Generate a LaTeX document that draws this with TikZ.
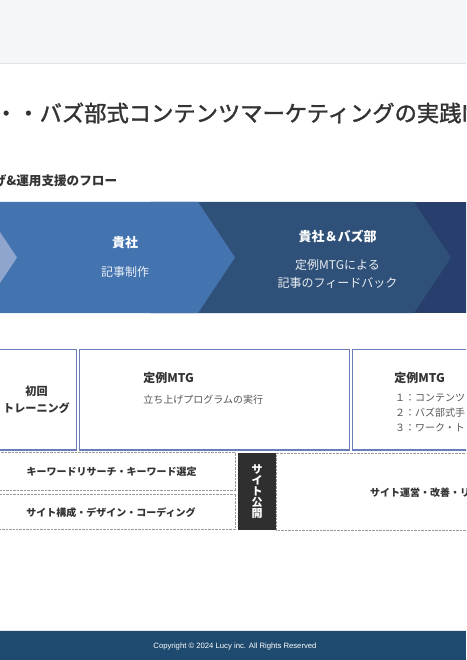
\documentclass[tikz,border=0pt]{standalone}
\usepackage{fontspec}
\setmainfont{Noto Sans CJK JP}
\newfontfamily\titlefont{Noto Sans CJK JP}[FakeBold=1.5]
\newfontfamily\footfont{Liberation Sans}
\definecolor{topband}{HTML}{F5F6F8}
\definecolor{topline}{HTML}{E2E4E8}
\definecolor{ink}{HTML}{333333}
\definecolor{soft}{HTML}{555555}
\definecolor{chevA}{HTML}{8FA5CD}
\definecolor{chevB}{HTML}{4374B0}
\definecolor{chevC}{HTML}{2E5079}
\definecolor{chevD}{HTML}{283E6D}
\definecolor{boxline}{HTML}{6A7DBA}
\definecolor{dotline}{HTML}{9A9A9A}
\definecolor{darkbox}{HTML}{2F2F2F}
\definecolor{footband}{HTML}{1E4A6F}

\begin{document}
\begin{tikzpicture}[x=1pt,y=-1pt,
	txt/.style={inner sep=0,outer sep=0},
	chevtitle/.style={txt,text=white,font=\fontsize{13}{16}\selectfont\bfseries},
	chevbody/.style={txt,align=center,font=\fontsize{12}{18}\selectfont},
	boxtitle/.style={txt,text=ink,font=\fontsize{12}{14}\selectfont\bfseries},
	boxbody/.style={txt,text=soft,align=left,font=\fontsize{10}{15}\selectfont},
	rowtext/.style={txt,text=ink,font=\fontsize{10}{12}\selectfont\bfseries},
	mtgbox/.style={draw=boxline,line width=1.1pt},
	rowbox/.style={draw=dotline,line width=0.8pt,dash pattern=on 0.7pt off 0.7pt}]
	\useasboundingbox (0,0) rectangle (466,660);
	\clip (0,0) rectangle (466,660);
	\fill[white] (0,0) rectangle (466,660);
	\fill[topband] (0,0) rectangle (466,63);
	\draw[topline,line width=1pt] (0,63.5) -- (466,63.5);
	\node[txt,anchor=west,text=ink,font=\titlefont\fontsize{22.3}{26}\selectfont] (title) at (-5,113) {・・バズ部式コンテンツマーケティングの実践M};
	\node[txt,anchor=west,text=ink,font=\fontsize{12.6}{15}\selectfont\bfseries] (subtitle) at (-6,181) {げ\&運用支援のフロー};
	\fill[chevD] (380,202) rectangle (470,313);
	\fill[chevC] (150,202) -- (414,202) -- (451,257.5) -- (414,313) -- (150,313) -- cycle;
	\fill[chevB] (-50,202) -- (198,202) -- (235,257.5) -- (198,313) -- (-50,313) -- cycle;
	\fill[chevA] (-50,202) -- (-20,202) -- (17,257.5) -- (-20,313) -- (-50,313) -- cycle;
	\node[chevtitle] (ownA) at (125,243) {貴社};
	\node[chevbody,text=white!88!chevB] (ownB) at (125,271.5) {記事制作};
	\node[chevtitle] (jointA) at (337.5,236.7) {貴社＆バズ部};
	\node[chevbody,text=white!90!chevC] (jointB) at (337.5,274) {定例MTGによる\\記事のフィードバック};
	\draw[mtgbox] (-5,349.3) rectangle (76.7,450);
	\draw[mtgbox] (79.3,349.3) rectangle (349.3,450);
	\draw[mtgbox] (352.3,349.3) rectangle (480,450);
	\node[txt,text=ink,align=center,font=\fontsize{11.1}{16.7}\selectfont\bfseries] (train) at (36.5,400) {初回\\トレーニング};
	\node[boxtitle,anchor=west] (mtgA) at (143.3,377.5) {定例MTG};
	\node[boxbody,anchor=west] (mtgAbody) at (143.3,399.5) {立ち上げプログラムの実行};
	\node[boxtitle,anchor=west] (mtgB) at (394.3,377.5) {定例MTG};
	\node[boxbody,anchor=west] (mtgBbody) at (395,413.3) {１：コンテンツ\\２：バズ部式手\\３：ワーク・ト};
	\draw[rowbox] (-5,452.3) rectangle (235.5,490.7);
	\draw[rowbox] (-5,494) rectangle (235.5,529.3);
	\draw[rowbox] (276,453.3) rectangle (480,530);
	\fill[darkbox] (238.3,452.7) rectangle (276,530);
	\node[rowtext] (keyword) at (111.7,471.7) {キーワードリサーチ・キーワード選定};
	\node[rowtext] (design) at (111,512.3) {サイト構成・デザイン・コーディング};
	\node[txt,text=white,align=center,font=\fontsize{11}{11.2}\selectfont\bfseries] (launch) at (257.2,491.5) {サ\\イ\\ト\\公\\開};
	\node[rowtext,anchor=west] (operate) at (370,493) {サイト運営・改善・リ};
	\fill[footband] (0,630) rectangle (466,660);
	\draw[topline,line width=0.6pt] (0,630) -- (466,630);
	\node[txt,text=white,font=\footfont\fontsize{7.7}{9}\selectfont] (copy) at (235,646.5) {Copyright © 2024 Lucy inc. All Rights Reserved};
\end{tikzpicture}
\end{document}
